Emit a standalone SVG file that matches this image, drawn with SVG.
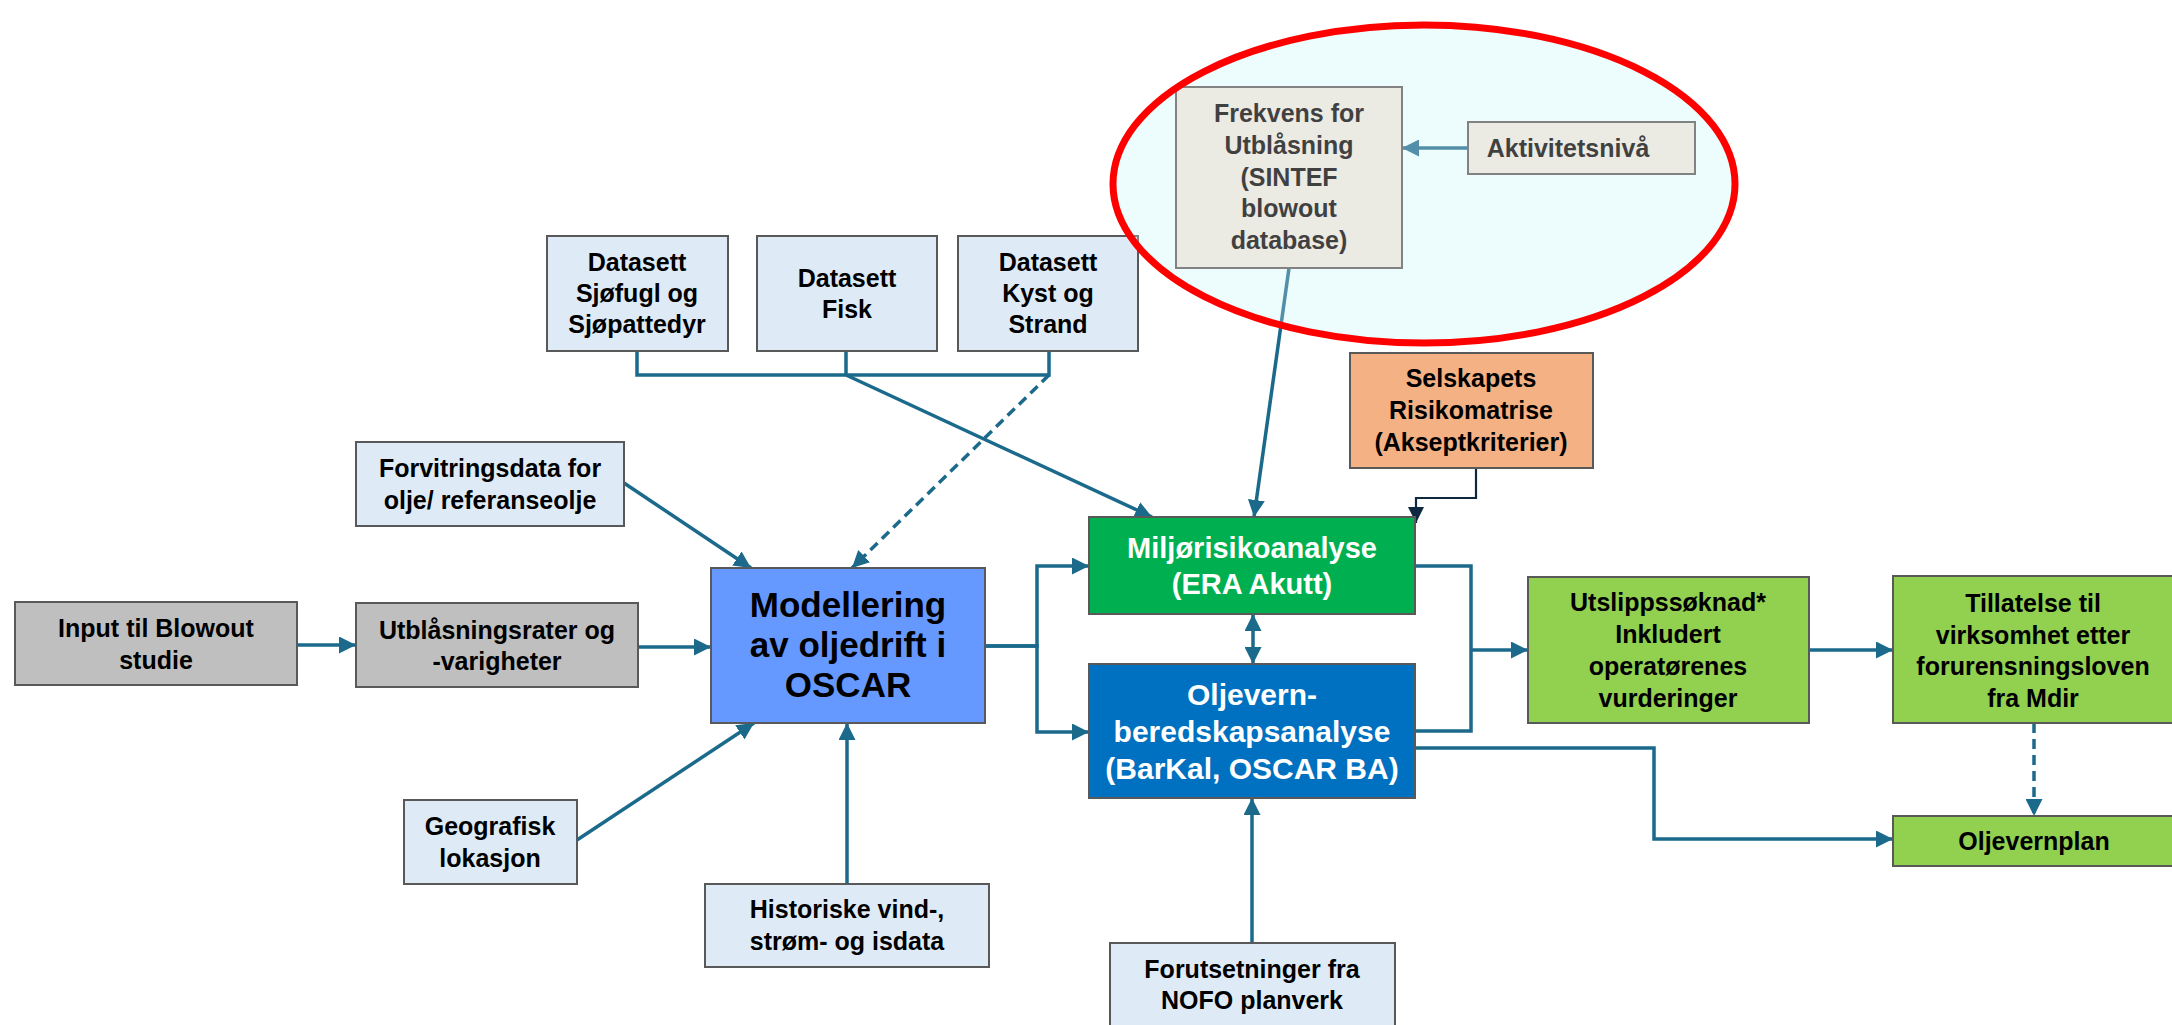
<svg xmlns="http://www.w3.org/2000/svg" width="2172" height="1025" viewBox="0 0 2172 1025">
<style>
  .box { stroke: #595959; stroke-width: 2; }
  .lb { fill: #DEEBF7; }
  .gr { fill: #BFBFBF; }
  .lg { fill: #92D050; }
  text { font-family: "Liberation Sans", Arial, sans-serif; font-weight: bold; font-size: 25px; fill: #000; text-anchor: middle; dominant-baseline: central; }
  text.f35 { font-size: 35px; }
  text.f29 { font-size: 29px; fill: #FFFFFF; }
  text.f30 { font-size: 30px; fill: #FFFFFF; }
  .c { fill: none; stroke: #1B6A8C; stroke-width: 3.5; }
  .a { marker-end: url(#ah); }
  .d { stroke-dasharray: 10 6; }
</style>
<defs>
  <marker id="ah" viewBox="0 0 16 16" refX="16" refY="8" markerWidth="17" markerHeight="17" orient="auto-start-reverse" markerUnits="userSpaceOnUse">
    <path d="M0,0 L16,8 L0,16 z" fill="#1B6A8C"/>
  </marker>
  <marker id="ahn" viewBox="0 0 16 16" refX="16" refY="8" markerWidth="16" markerHeight="16" orient="auto" markerUnits="userSpaceOnUse">
    <path d="M0,0 L16,8 L0,16 z" fill="#0E2841"/>
  </marker>
</defs>
<rect width="2172" height="1025" fill="#FFFFFF"/>
<ellipse id="highlight-base" cx="1424" cy="184" rx="311" ry="159" fill="#E7FCFD"/>

<g id="connectors">
  <path class="c" d="M637,351 V375 H1049 V351 M846,351 V375"/>
  <path class="c a" d="M846,375 L1152,517"/>
  <path class="c a d" d="M1049,375 L852,568"/>
  <path class="c a" d="M624,483 L751,568"/>
  <path class="c a" d="M297,645 L356,645"/>
  <path class="c a" d="M638,647 L711,647"/>
  <path class="c a" d="M577,840 L754,723"/>
  <path class="c a" d="M847,884 V723"/>
  <path class="c a" d="M985,646 H1037 V566 H1089"/>
  <path class="c a" d="M985,646 H1037 V732 H1089"/>
  <path class="c a" d="M1289,268 L1254,517"/>
  <path class="c a" d="M1468,148 L1402,148"/>
  <path fill="none" stroke="#0E2841" stroke-width="2.2" marker-end="url(#ahn)" d="M1476,468 V498 H1416 V523"/>
  <path class="c" marker-start="url(#ah)" marker-end="url(#ah)" d="M1253,614 V664"/>
  <path class="c" d="M1415,566 H1471 V731 H1415"/>
  <path class="c a" d="M1471,650 H1528"/>
  <path class="c a" d="M1415,748 H1654 V839 H1893"/>
  <path class="c a" d="M1809,650 H1893"/>
  <path class="c a d" d="M2034,723 V816"/>
  <path class="c a" d="M1252,943 V798"/>
</g>

<g id="input-blowout">
  <rect class="box gr" x="15" y="602" width="282" height="83"/>
  <text x="156" y="628">Input til Blowout</text>
  <text x="156" y="660">studie</text>
</g>
<g id="utblasningsrater">
  <rect class="box gr" x="356" y="603" width="282" height="84"/>
  <text x="497" y="630">Utblåsningsrater og</text>
  <text x="497" y="661">-varigheter</text>
</g>
<g id="forvitringsdata">
  <rect class="box lb" x="356" y="442" width="268" height="84"/>
  <text x="490" y="468">Forvitringsdata for</text>
  <text x="490" y="500">olje/ referanseolje</text>
</g>
<g id="geografisk">
  <rect class="box lb" x="404" y="800" width="173" height="84"/>
  <text x="490" y="826">Geografisk</text>
  <text x="490" y="858">lokasjon</text>
</g>
<g id="historiske">
  <rect class="box lb" x="705" y="884" width="284" height="83"/>
  <text x="847" y="909">Historiske vind-,</text>
  <text x="847" y="941">strøm- og isdata</text>
</g>
<g id="modellering">
  <rect class="box" fill="#6699FF" x="711" y="568" width="274" height="155"/>
  <text class="f35" x="848" y="604">Modellering</text>
  <text class="f35" x="848" y="644">av oljedrift i</text>
  <text class="f35" x="848" y="684">OSCAR</text>
</g>
<g id="datasett-sjofugl">
  <rect class="box lb" x="547" y="236" width="181" height="115"/>
  <text x="637" y="262">Datasett</text>
  <text x="637" y="293">Sjøfugl og</text>
  <text x="637" y="324">Sjøpattedyr</text>
</g>
<g id="datasett-fisk">
  <rect class="box lb" x="757" y="236" width="180" height="115"/>
  <text x="847" y="278">Datasett</text>
  <text x="847" y="309">Fisk</text>
</g>
<g id="datasett-kyst">
  <rect class="box lb" x="958" y="236" width="180" height="115"/>
  <text x="1048" y="262">Datasett</text>
  <text x="1048" y="293">Kyst og</text>
  <text x="1048" y="324">Strand</text>
</g>
<g id="frekvens">
  <rect class="box" fill="#E4E3DA" x="1176" y="87" width="226" height="181"/>
  <text x="1289" y="113">Frekvens for</text>
  <text x="1289" y="145">Utblåsning</text>
  <text x="1289" y="177">(SINTEF</text>
  <text x="1289" y="208">blowout</text>
  <text x="1289" y="240">database)</text>
</g>
<g id="aktivitetsniva">
  <rect class="box" fill="#E4E3DA" x="1468" y="122" width="227" height="52"/>
  <text x="1568" y="148">Aktivitetsnivå</text>
</g>
<g id="selskapets">
  <rect class="box" fill="#F4B183" x="1350" y="353" width="243" height="115"/>
  <text x="1471" y="378">Selskapets</text>
  <text x="1471" y="410">Risikomatrise</text>
  <text x="1471" y="442">(Akseptkriterier)</text>
</g>
<g id="miljorisikoanalyse">
  <rect class="box" fill="#00B050" x="1089" y="517" width="326" height="97"/>
  <text class="f29" x="1252" y="548">Miljørisikoanalyse</text>
  <text class="f29" x="1252" y="584">(ERA Akutt)</text>
</g>
<g id="oljevernberedskap">
  <rect class="box" fill="#0070C0" x="1089" y="664" width="326" height="134"/>
  <text class="f30" x="1252" y="694">Oljevern-</text>
  <text class="f30" x="1252" y="731">beredskapsanalyse</text>
  <text class="f30" x="1252" y="768">(BarKal, OSCAR BA)</text>
</g>
<g id="forutsetninger">
  <rect class="box lb" x="1110" y="943" width="285" height="92"/>
  <text x="1252" y="969">Forutsetninger fra</text>
  <text x="1252" y="1000">NOFO planverk</text>
</g>
<g id="utslippssoknad">
  <rect class="box lg" x="1528" y="577" width="281" height="146"/>
  <text x="1668" y="602">Utslippssøknad*</text>
  <text x="1668" y="634">Inkludert</text>
  <text x="1668" y="666">operatørenes</text>
  <text x="1668" y="698">vurderinger</text>
</g>
<g id="tillatelse">
  <rect class="box lg" x="1893" y="576" width="300" height="147"/>
  <text x="2033" y="603">Tillatelse til</text>
  <text x="2033" y="635">virksomhet etter</text>
  <text x="2033" y="666">forurensningsloven</text>
  <text x="2033" y="698">fra Mdir</text>
</g>
<g id="oljevernplan">
  <rect class="box lg" x="1893" y="816" width="300" height="50"/>
  <text x="2034" y="841">Oljevernplan</text>
</g>

<ellipse id="highlight" cx="1424" cy="184" rx="311" ry="159" fill="#FFFFFF" fill-opacity="0.25" stroke="#FF0000" stroke-width="7"/>
</svg>
